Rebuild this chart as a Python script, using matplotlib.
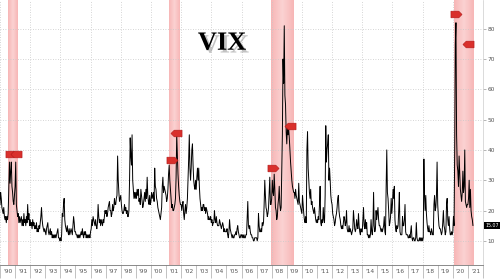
import matplotlib
matplotlib.use("Agg")
import matplotlib.pyplot as plt
import matplotlib.patheffects as pe
from matplotlib.colors import LinearSegmentedColormap
from matplotlib.path import Path
import numpy as np

# VIX, two readings per month
vix_1990 = [22, 26, 24, 21, 20, 19, 21, 18, 17, 18, 16, 18, 17, 19, 27, 36, 29, 33, 36, 28, 26, 23, 22, 25]
vix_1991 = [28, 36, 22, 20, 18, 19, 16, 18, 16, 17, 18, 15, 17, 15, 19, 16, 17, 15, 18, 16, 22, 17, 19, 15]
vix_1992 = [17, 15, 16, 14, 17, 15, 16, 14, 15, 14, 16, 13, 14, 13, 15, 14, 16, 18, 21, 17, 15, 14, 13, 14]
vix_1993 = [13, 12, 14, 15, 16, 13, 12, 13, 14, 12, 13, 11, 12, 11, 12, 11, 12, 11, 12, 13, 14, 11, 11, 10]
vix_1994 = [11, 10, 12, 19, 18, 22, 24, 17, 15, 14, 13, 15, 13, 12, 14, 12, 13, 14, 13, 12, 15, 18, 16, 13]
vix_1995 = [13, 12, 12, 11, 12, 11, 12, 11, 12, 13, 12, 14, 12, 11, 13, 12, 13, 11, 12, 11, 12, 11, 12, 11]
vix_1996 = [13, 14, 17, 15, 18, 17, 16, 15, 17, 15, 14, 16, 22, 18, 16, 17, 15, 17, 16, 15, 17, 16, 18, 20]
vix_1997 = [19, 20, 18, 19, 21, 22, 23, 20, 20, 18, 19, 22, 20, 21, 24, 22, 22, 24, 25, 38, 30, 26, 23, 24]
vix_1998 = [25, 22, 20, 19, 19, 20, 22, 20, 21, 19, 20, 18, 18, 20, 30, 44, 38, 35, 45, 30, 27, 24, 26, 24]
vix_1999 = [26, 24, 27, 25, 27, 23, 24, 22, 27, 25, 23, 21, 22, 24, 26, 23, 27, 24, 31, 25, 23, 22, 25, 22]
vix_2000 = [23, 26, 24, 25, 26, 23, 34, 28, 27, 24, 23, 21, 20, 19, 18, 17, 19, 21, 28, 31, 26, 28, 27, 26]
vix_2001 = [25, 23, 24, 27, 32, 35, 30, 27, 24, 21, 22, 20, 20, 21, 22, 24, 31, 45, 38, 32, 28, 25, 23, 22]
vix_2002 = [22, 20, 22, 23, 19, 17, 20, 22, 19, 21, 24, 30, 37, 45, 34, 30, 34, 40, 42, 35, 30, 28, 27, 30]
vix_2003 = [27, 31, 34, 30, 34, 28, 24, 22, 20, 21, 20, 22, 22, 20, 21, 19, 21, 20, 19, 17, 18, 17, 17, 18]
vix_2004 = [16, 17, 15, 16, 16, 20, 17, 16, 18, 16, 15, 15, 15, 17, 16, 15, 14, 15, 16, 15, 13, 14, 13, 13]
vix_2005 = [13, 14, 12, 11, 13, 17, 14, 13, 12, 11, 12, 11, 11, 12, 12, 13, 12, 14, 15, 13, 12, 11, 11, 12]
vix_2006 = [12, 11, 12, 11, 12, 11, 11, 12, 12, 18, 23, 15, 14, 15, 13, 12, 12, 11, 11, 10, 10, 11, 11, 11]
vix_2007 = [11, 10, 11, 19, 15, 13, 13, 14, 13, 16, 15, 16, 22, 30, 25, 21, 20, 18, 19, 21, 26, 31, 22, 22]
vix_2008 = [24, 30, 26, 25, 32, 27, 21, 20, 17, 18, 22, 24, 28, 22, 20, 21, 33, 45, 70, 62, 81, 58, 55, 46]
vix_2009 = [42, 48, 45, 47, 44, 40, 36, 33, 30, 28, 27, 26, 26, 24, 27, 25, 24, 23, 22, 29, 23, 22, 21, 20]
vix_2010 = [19, 25, 22, 19, 17, 16, 18, 16, 40, 46, 34, 30, 26, 24, 27, 22, 23, 21, 20, 19, 21, 19, 17, 16]
vix_2011 = [17, 16, 18, 17, 22, 28, 16, 15, 17, 16, 21, 17, 16, 25, 48, 36, 40, 42, 45, 30, 34, 30, 25, 23]
vix_2012 = [22, 19, 18, 17, 15, 16, 18, 19, 21, 24, 25, 20, 18, 17, 15, 14, 15, 14, 16, 18, 17, 15, 16, 20]
vix_2013 = [14, 13, 13, 15, 13, 14, 13, 12, 13, 14, 20, 17, 14, 13, 14, 17, 15, 14, 19, 15, 13, 12, 14, 13]
vix_2014 = [13, 17, 21, 15, 14, 17, 14, 16, 12, 12, 11, 12, 11, 12, 17, 13, 12, 15, 26, 15, 13, 14, 20, 17]
vix_2015 = [19, 21, 17, 15, 15, 14, 13, 14, 13, 14, 15, 18, 13, 12, 28, 40, 26, 24, 20, 15, 16, 18, 24, 19]
vix_2016 = [22, 27, 24, 28, 17, 14, 13, 15, 14, 15, 20, 26, 13, 12, 12, 12, 18, 15, 15, 17, 22, 13, 12, 12]
vix_2017 = [12, 11, 11, 12, 11, 13, 15, 11, 10, 11, 11, 10, 10, 11, 16, 11, 10, 10, 10, 11, 10, 11, 10, 11]
vix_2018 = [10, 11, 37, 25, 20, 25, 19, 16, 14, 13, 15, 13, 13, 12, 14, 13, 12, 12, 22, 25, 20, 21, 25, 36]
vix_2019 = [22, 18, 15, 14, 14, 13, 12, 13, 16, 20, 15, 14, 12, 13, 22, 24, 17, 15, 18, 14, 12, 12, 13, 12]
vix_2020 = [13, 18, 15, 40, 75, 82, 45, 35, 33, 28, 38, 32, 27, 25, 23, 26, 33, 26, 28, 40, 23, 22, 21, 22]
vix_2021 = [22, 24, 30, 21, 27, 20, 18, 17, 15.07]

last_value = 15.07

# recession bands (decimal years)
rec_start = [1990.55, 2001.17, 2007.95, 2020.05]
rec_end = [1991.2, 2001.88, 2009.45, 2021.33]

# red tags on the chart
tag_x = [1990.72, 1991.07, 2001.4, 2001.65, 2008.1, 2009.2, 2020.2, 2021.0]
tag_y = [38.5, 38.5, 36.6, 45.6, 34.0, 47.8, 85.0, 75.0]
tag_dir = ["r", "l", "r", "l", "r", "l", "r", "l"]

years = list(range(1990, 2022))
ylabels = [10, 20, 30, 40, 50, 60, 70, 80]

vix = (vix_1990 + vix_1991 + vix_1992 + vix_1993 + vix_1994 + vix_1995 + vix_1996 + vix_1997
       + vix_1998 + vix_1999 + vix_2000 + vix_2001 + vix_2002 + vix_2003 + vix_2004 + vix_2005
       + vix_2006 + vix_2007 + vix_2008 + vix_2009 + vix_2010 + vix_2011 + vix_2012 + vix_2013
       + vix_2014 + vix_2015 + vix_2016 + vix_2017 + vix_2018 + vix_2019 + vix_2020 + vix_2021)
t = 1990 + np.arange(len(vix)) / 24.0

fig = plt.figure(figsize=(5, 2.79), dpi=100)
ax = fig.add_axes([0, 0.05, 0.966, 0.95])
ylo, yhi = 2, 89.5

# pink recession shading, a bit lighter in the middle
pink = LinearSegmentedColormap.from_list("pink", ["#f7b6b6", "#fbd2d2", "#f7b6b6"])
grad = np.linspace(0, 1, 64).reshape(1, -1)
for s, e in zip(rec_start, rec_end):
    ax.imshow(grad, extent=[s, e, ylo, yhi], aspect="auto", cmap=pink, zorder=0)

# dotted grid
for y in ylabels:
    ax.axhline(y, color="#c8c8c8", lw=0.6, ls=(0, (1, 2)), zorder=1)
for yr in years[::2]:
    ax.axvline(yr, color="#c8c8c8", lw=0.6, ls=(0, (1, 2)), zorder=1)

ax.plot(t, vix, color="black", lw=0.7, zorder=3)

# tag markers
right_tag = Path([(-1, -0.6), (0.4, -0.6), (1, 0), (0.4, 0.6), (-1, 0.6), (-1, -0.6)])
left_tag = Path([(1, -0.6), (-0.4, -0.6), (-1, 0), (-0.4, 0.6), (1, 0.6), (1, -0.6)])
for x, y, d in zip(tag_x, tag_y, tag_dir):
    ax.plot(x, y, marker=right_tag if d == "r" else left_tag, ms=8, color="#d9302c",
            mec="#b01818", mew=0.4, zorder=4)

ax.set_xlim(1990, 2022)
ax.set_ylim(ylo, yhi)

ax.yaxis.tick_right()
ax.set_yticks(ylabels)
ax.tick_params(axis="y", labelsize=4.2, labelcolor="#555555", color="#999999", length=2, width=0.5, pad=1.5)

ax.set_xticks(years + [2022])
ax.set_xticklabels([])
ax.set_xticks([y + 0.5 for y in years], minor=True)
ax.set_xticklabels(["'%02d" % (y % 100) for y in years], minor=True)
ax.tick_params(axis="x", which="major", length=9, width=0.5, color="#aaaaaa")
ax.tick_params(axis="x", which="minor", length=0, labelsize=4.2, labelcolor="#555555", pad=3)

for side in ["top", "left"]:
    ax.spines[side].set_visible(False)
ax.spines["bottom"].set_color("#777777")
ax.spines["bottom"].set_linewidth(0.6)
ax.spines["right"].set_color("#cccccc")
ax.spines["right"].set_linewidth(0.5)

# last value box
ax.annotate("%.2f" % last_value, xy=(1.0, last_value), xycoords=("axes fraction", "data"),
            xytext=(1.5, 0), textcoords="offset points", fontsize=3.4, color="white",
            va="center", ha="left",
            bbox=dict(boxstyle="square,pad=0.2", fc="black", ec="none"), annotation_clip=False)

fig.text(0.444, 0.845, "VIX", fontsize=19, fontweight="bold", family="Liberation Serif",
         ha="center", va="center",
         path_effects=[pe.SimplePatchShadow(offset=(2, -2), shadow_rgbFace="#888888", alpha=0.5), pe.Normal()])

fig.savefig("out.png", dpi=100)
